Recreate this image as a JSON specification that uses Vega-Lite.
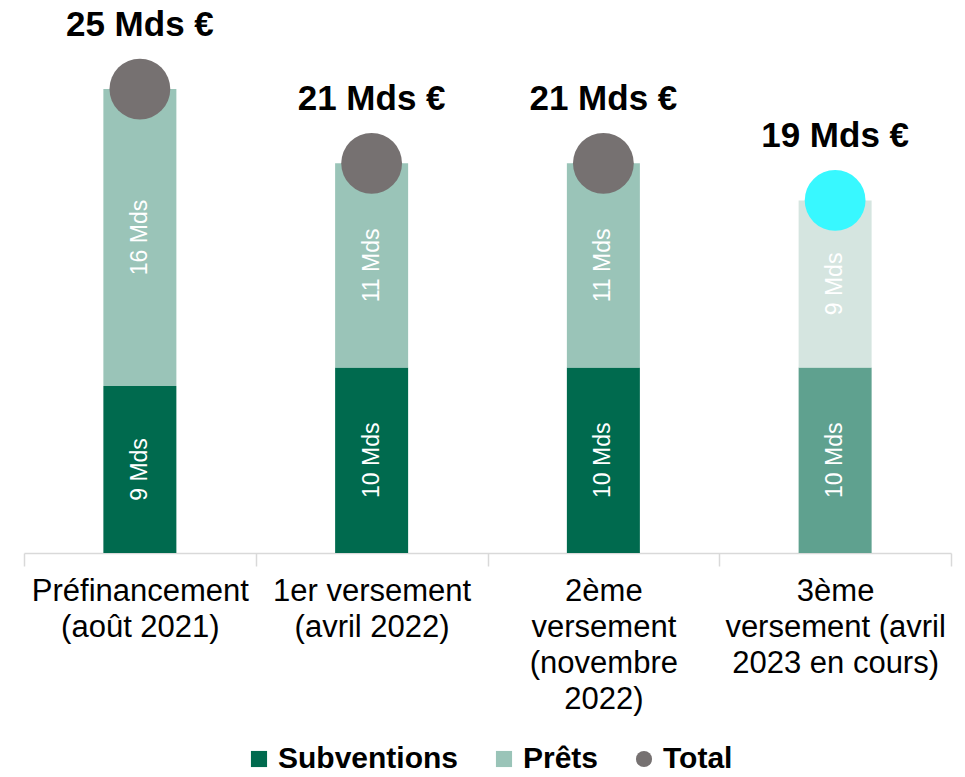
{
  "$schema": "https://vega.github.io/schema/vega-lite/v6.json",
  "width": 927,
  "height": 553,
  "autosize": {"type": "none"},
  "padding": {"left": 24, "top": 0, "right": 14, "bottom": 224},
  "background": "white",
  "config": {
    "font": "Liberation Sans",
    "view": {"stroke": null}
  },
  "data": {
    "values": [
      {"periode": "Préfinancement\n(août 2021)", "serie": "Subventions", "valeur": 9, "statut": "versé"},
      {"periode": "Préfinancement\n(août 2021)", "serie": "Prêts", "valeur": 16, "statut": "versé"},
      {"periode": "Préfinancement\n(août 2021)", "serie": "Total", "valeur": 25, "statut": "versé"},
      {"periode": "1er versement\n(avril 2022)", "serie": "Subventions", "valeur": 10, "statut": "versé"},
      {"periode": "1er versement\n(avril 2022)", "serie": "Prêts", "valeur": 11, "statut": "versé"},
      {"periode": "1er versement\n(avril 2022)", "serie": "Total", "valeur": 21, "statut": "versé"},
      {"periode": "2ème\nversement\n(novembre\n2022)", "serie": "Subventions", "valeur": 10, "statut": "versé"},
      {"periode": "2ème\nversement\n(novembre\n2022)", "serie": "Prêts", "valeur": 11, "statut": "versé"},
      {"periode": "2ème\nversement\n(novembre\n2022)", "serie": "Total", "valeur": 21, "statut": "versé"},
      {"periode": "3ème\nversement (avril\n2023 en cours)", "serie": "Subventions", "valeur": 10, "statut": "en cours"},
      {"periode": "3ème\nversement (avril\n2023 en cours)", "serie": "Prêts", "valeur": 9, "statut": "en cours"},
      {"periode": "3ème\nversement (avril\n2023 en cours)", "serie": "Total", "valeur": 19, "statut": "en cours"}
    ]
  },
  "transform": [
    {"calculate": "datum.statut === 'en cours' ? datum.serie + ' (en cours)' : datum.serie", "as": "cle"}
  ],
  "encoding": {
    "x": {
      "field": "periode",
      "type": "nominal",
      "sort": null,
      "title": null,
      "scale": {"paddingInner": 0, "paddingOuter": 0},
      "axis": {
        "labelAngle": 0,
        "labelExpr": "split(datum.label, '\\n')",
        "labelFontSize": 31,
        "labelLineHeight": 36,
        "labelColor": "#000000",
        "labelPadding": 10,
        "labelLimit": 0,
        "labelBaseline": "top",
        "domainColor": "#D9D9D9",
        "domainWidth": 1.5,
        "tickColor": "#D9D9D9",
        "tickWidth": 1.5,
        "tickSize": 13,
        "tickBand": "extent",
        "grid": false
      }
    }
  },
  "layer": [
    {
      "transform": [
        {"filter": "datum.serie !== 'Total'"},
        {"stack": "valeur", "groupby": ["periode"], "sort": [{"field": "serie", "order": "descending"}], "as": ["v0", "v1"]},
        {"calculate": "(datum.v0 + datum.v1) / 2", "as": "milieu"},
        {"calculate": "datum.valeur + ' Mds'", "as": "etiquette"}
      ],
      "layer": [
        {
          "mark": {"type": "bar", "width": {"band": 0.315}},
          "encoding": {
            "y": {"field": "v0", "type": "quantitative", "scale": {"domain": [0, 29.8], "nice": false}, "axis": null},
            "y2": {"field": "v1"},
            "color": {
              "field": "cle",
              "type": "nominal",
              "scale": {
                "domain": ["Subventions", "Prêts", "Total", "Subventions (en cours)", "Prêts (en cours)", "Total (en cours)"],
                "range": ["#006A4E", "#9AC4B8", "#767171", "#5FA18F", "#D5E5E0", "#38F8FF"]
              },
              "legend": {
                "values": ["Subventions", "Prêts", "Total"],
                "title": null,
                "orient": "none",
                "direction": "horizontal",
                "legendX": 220,
                "legendY": 744,
                "labelFontSize": 30,
                "labelFontWeight": "bold",
                "labelColor": "#000000",
                "labelOffset": 4,
                "labelLimit": 0,
                "columnPadding": 30,
                "symbolSize": 260,
                "symbolOpacity": 1,
                "symbolStrokeWidth": 0,
                "padding": 0,
                "encode": {
                  "symbols": {"update": {"shape": {"signal": "datum.value === 'Total' ? 'circle' : 'square'"}}}
                }
              }
            }
          }
        },
        {
          "mark": {"type": "text", "angle": 270, "fontSize": 23, "color": "#FFFFFF", "align": "center", "baseline": "middle"},
          "encoding": {
            "y": {"field": "milieu", "type": "quantitative"},
            "text": {"field": "etiquette"}
          }
        }
      ]
    },
    {
      "transform": [
        {"filter": "datum.serie === 'Total'"},
        {"calculate": "datum.valeur + ' Mds €'", "as": "etiquette"}
      ],
      "layer": [
        {
          "mark": {"type": "point", "filled": true, "opacity": 1, "size": 3700, "shape": "circle"},
          "encoding": {
            "y": {"field": "valeur", "type": "quantitative"},
            "color": {"field": "cle", "type": "nominal"}
          }
        },
        {
          "mark": {"type": "text", "fontSize": 35, "fontWeight": "bold", "color": "#000000", "align": "center", "baseline": "middle", "dy": -64},
          "encoding": {
            "y": {"field": "valeur", "type": "quantitative"},
            "text": {"field": "etiquette"}
          }
        }
      ]
    }
  ]
}
